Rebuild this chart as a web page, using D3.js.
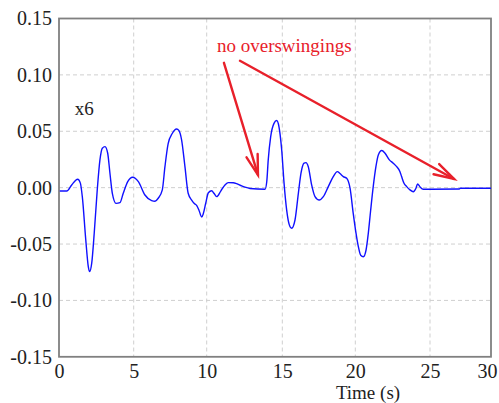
<!DOCTYPE html>
<html>
<head>
<meta charset="utf-8">
<script src="https://cdn.jsdelivr.net/npm/d3@7"></script>
<style>
  html, body { margin: 0; padding: 0; background: #fff; }
  svg { display: block; }
  svg text { font-family: "Liberation Serif", "Times New Roman", serif !important; }
</style>
</head>
<body>
<svg id="chart" width="499" height="403"></svg>
<script>
// ---- data ----
const xTicks = [0, 5, 10, 15, 20, 25, 30];
const yTicks = [-0.15, -0.10, -0.05, 0.00, 0.05, 0.10, 0.15];
const yTickLabels = ["-0.15", "-0.10", "-0.05", "0.00", "0.05", "0.10", "0.15"];
const time = [0.05, 0.13, 0.52, 0.85, 1.25, 1.43, 1.56, 1.79, 1.96, 2.05, 2.19, 2.36, 2.56, 2.74, 2.90, 3.08, 3.26, 3.41, 3.57, 3.82, 4.08, 4.30, 4.60, 4.93, 5.32, 5.77, 6.23, 6.46, 6.68, 6.96, 7.14, 7.36, 7.64, 7.94, 8.10, 8.28, 8.51, 8.73, 8.97, 9.15, 9.32, 9.47, 9.66, 9.77, 9.93, 10.11, 10.33, 10.48, 10.66, 10.93, 11.21, 11.43, 11.76, 11.98, 12.31, 12.53, 12.86, 13.86, 13.97, 14.07, 14.23, 14.45, 14.63, 14.78, 14.96, 15.12, 15.30, 15.48, 15.64, 15.87, 16.10, 16.28, 16.49, 16.62, 16.78, 17.01, 17.24, 17.53, 17.81, 18.15, 18.49, 18.77, 18.95, 19.18, 19.41, 19.64, 19.86, 20.05, 20.20, 20.36, 20.54, 20.72, 20.87, 21.03, 21.20, 21.38, 21.54, 21.77, 21.99, 22.28, 22.54, 22.77, 22.99, 23.10, 23.26, 23.44, 23.66, 23.88, 24.06, 24.17, 24.32, 24.55, 25.00, 27.40, 27.50, 30.00];
const x6 = [-0.003, -0.003, -0.003, 0.0024, 0.0075, 0.004, -0.008, -0.046, -0.070, -0.0745, -0.067, -0.040, -0.002, 0.0246, 0.035, 0.0364, 0.0305, 0.0128, -0.005, -0.0139, -0.0133, -0.005, 0.0053, 0.0092, 0.0053, -0.0065, -0.0115, -0.012, -0.0094, -0.002, 0.0186, 0.039, 0.048, 0.052, 0.0506, 0.0424, 0.0186, -0.005, -0.011, -0.014, -0.016, -0.020, -0.026, -0.023, -0.014, -0.0045, -0.0027, -0.005, -0.008, -0.003, 0.0024, 0.0045, 0.0044, 0.0035, 0.0015, 0.0004, -0.0007, -0.0014, 0.005, 0.0246, 0.045, 0.057, 0.0595, 0.054, 0.0335, 0.004, -0.020, -0.033, -0.036, -0.0287, -0.005, 0.0128, 0.0217, 0.0222, 0.0186, 0.0024, -0.008, -0.011, -0.008, 0.0009, 0.0098, 0.0142, 0.0125, 0.0098, 0.0083, -0.0005, -0.023, -0.0405, -0.052, -0.060, -0.0613, -0.0553, -0.0405, -0.0198, 0.0009, 0.0186, 0.029, 0.0329, 0.0305, 0.0246, 0.0217, 0.0186, 0.0142, 0.0098, 0.0039, 0.0009, -0.002, -0.0036, -0.0005, 0.0033, 0.0009, -0.0014, -0.0014, -0.0012, -0.0005, -0.0005];
const seriesLabel = "x6";
const xLabel = "Time (s)";
const annotation = "no overswingings";
// arrows: [startTime, startValue, tipTime, tipValue]
const arrow1 = [11.14, 0.1107, 13.39, 0.0113];
const arrow2 = [12.2, 0.1125, 26.97, 0.0077];

// ---- layout ----
const svg = d3.select("#chart");
const x = d3.scaleLinear().domain(xTicks).range([59, 133.7, 206.7, 282.3, 355.3, 430, 491]);
const y = d3.scaleLinear().domain([-0.15, 0.15]).range([356.8, 18.5]);
const L = 59, R = 491, T = 18.5, B = 356.8;
const FONT = "'Liberation Serif', 'Times New Roman', serif";

// grid
const grid = svg.append("g").attr("stroke", "#cfcfcf").attr("stroke-width", 1).attr("stroke-dasharray", "4,3");
xTicks.slice(1, -1).forEach(t => grid.append("line").attr("x1", x(t)).attr("x2", x(t)).attr("y1", T).attr("y2", B));
yTicks.slice(1, -1).forEach(v => grid.append("line").attr("x1", L).attr("x2", R).attr("y1", y(v)).attr("y2", y(v)));

// axes via d3
const xAxis = d3.axisBottom(x).tickValues(xTicks).tickFormat(d3.format("d")).tickSize(0).tickPadding(7);
const gx = svg.append("g").attr("transform", `translate(0,${B})`).call(xAxis).attr("font-family", null).attr("font-size", null);
gx.select(".domain").remove();
gx.selectAll("text").style("font-size", "20px").style("fill", "#222").style("font-family", FONT);
gx.selectAll(".tick").filter(d => d === 30).select("text").attr("dx", -4);

const yAxis = d3.axisLeft(y).tickValues(yTicks).tickFormat((d, i) => yTickLabels[i]).tickSize(0).tickPadding(7);
const gy = svg.append("g").attr("transform", `translate(${L},0)`).call(yAxis).attr("font-family", null).attr("font-size", null);
gy.select(".domain").remove();
gy.selectAll("text").style("font-size", "20px").style("fill", "#222").style("font-family", FONT);

// frame
svg.append("rect").attr("x", L).attr("y", T).attr("width", R - L).attr("height", B - T)
  .attr("fill", "none").attr("stroke", "#808080").attr("stroke-width", 1.8);

// x label
svg.append("text").attr("x", 368).attr("y", 398.5).attr("text-anchor", "middle")
  .style("font-size", "19px").style("fill", "#222").text(xLabel);

// curve
const pts = time.map((t, i) => [t, x6[i]]);
const line = d3.line().x(d => x(d[0])).y(d => y(d[1])).curve(d3.curveMonotoneX);
svg.append("path").attr("d", line(pts)).attr("fill", "none").attr("stroke", "#1010ff").attr("stroke-width", 1.4);

// series label
svg.append("text").attr("x", x(1.05)).attr("y", y(0.0645)).style("font-size", "19px").style("fill", "#222").text(seriesLabel);

// annotation
const red = "#e8202a";
svg.append("text").attr("x", x(10.68)).attr("y", y(0.1205)).style("font-size", "19px").style("fill", red).text(annotation);

function drawArrow(a) {
  const x1 = x(a[0]), y1 = y(a[1]), x2 = x(a[2]), y2 = y(a[3]);
  const ang = Math.atan2(y2 - y1, x2 - x1);
  const len = 21, spread = 0.28;
  const g = svg.append("g").attr("stroke", red).attr("stroke-width", 2.4).attr("fill", "none").attr("stroke-linecap", "round");
  g.append("line").attr("x1", x1).attr("y1", y1).attr("x2", x2).attr("y2", y2);
  g.append("path").attr("d", `M${x2 - len * Math.cos(ang - spread)},${y2 - len * Math.sin(ang - spread)} L${x2},${y2} L${x2 - len * Math.cos(ang + spread)},${y2 - len * Math.sin(ang + spread)}`);
}
drawArrow(arrow1);
drawArrow(arrow2);
</script>
</body>
</html>
